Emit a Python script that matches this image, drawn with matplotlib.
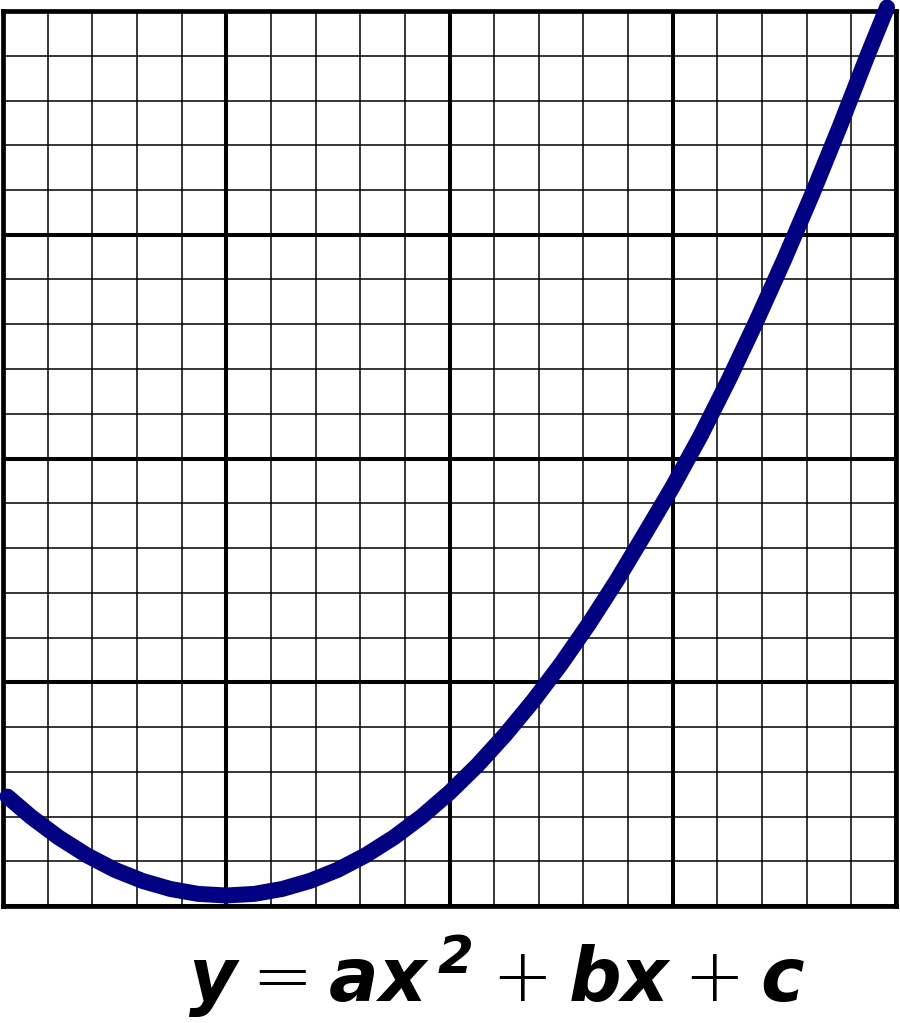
import matplotlib
matplotlib.use("Agg")
import matplotlib.pyplot as plt
import numpy as np

# curve points (1 major square = 1 unit)
curve_x = [0.02, 0.125, 0.25, 0.375, 0.5, 0.625, 0.75, 0.875, 1.0,
           1.125, 1.25, 1.375, 1.5, 1.625, 1.75, 1.875, 2.0,
           2.125, 2.25, 2.375, 2.5, 2.625, 2.75, 2.875, 3.0,
           3.125, 3.25, 3.375, 3.5, 3.625, 3.75, 3.875, 3.96]
curve_y = [0.489, 0.399, 0.306, 0.227, 0.162, 0.112, 0.076, 0.054, 0.047,
           0.054, 0.076, 0.112, 0.162, 0.227, 0.306, 0.399, 0.507,
           0.629, 0.766, 0.917, 1.082, 1.262, 1.456, 1.664, 1.875,
           2.102, 2.350, 2.614, 2.891, 3.182, 3.488, 3.808, 4.016]

major_ticks = [0, 1, 2, 3, 4]
minor_ticks = np.arange(0, 4.01, 0.2)

equation = r"$y = ax^{\,\mathbf{2}} + bx + c$"

plt.rcParams["mathtext.fontset"] = "custom"
plt.rcParams["mathtext.it"] = "DejaVu Sans:italic:bold"
plt.rcParams["mathtext.bf"] = "DejaVu Sans:italic:bold"
plt.rcParams["mathtext.rm"] = "DejaVu Sans:light"

fig = plt.figure(figsize=(9, 10.23), dpi=100)
ax = fig.add_axes([3 / 900, 117 / 1023, 893 / 900, 895 / 1023])

ax.set_xlim(0, 4)
ax.set_ylim(0, 4)
ax.set_xticks(major_ticks)
ax.set_yticks(major_ticks)
ax.set_xticks(minor_ticks, minor=True)
ax.set_yticks(minor_ticks, minor=True)
ax.tick_params(which="both", length=0, labelbottom=False, labelleft=False)
ax.grid(which="major", color="black", linewidth=2.9)
ax.grid(which="minor", color="black", linewidth=1.1)
ax.set_axisbelow(True)
for s in ax.spines.values():
    s.set_linewidth(3.4)

ax.plot(curve_x, curve_y, color="#000080", linewidth=11.5,
        solid_capstyle="round", solid_joinstyle="round",
        clip_on=False, zorder=5)

fig.text(497 / 900, 21 / 1023, equation, ha="center", va="baseline",
         fontsize=53)

fig.savefig("out.png", dpi=100)
